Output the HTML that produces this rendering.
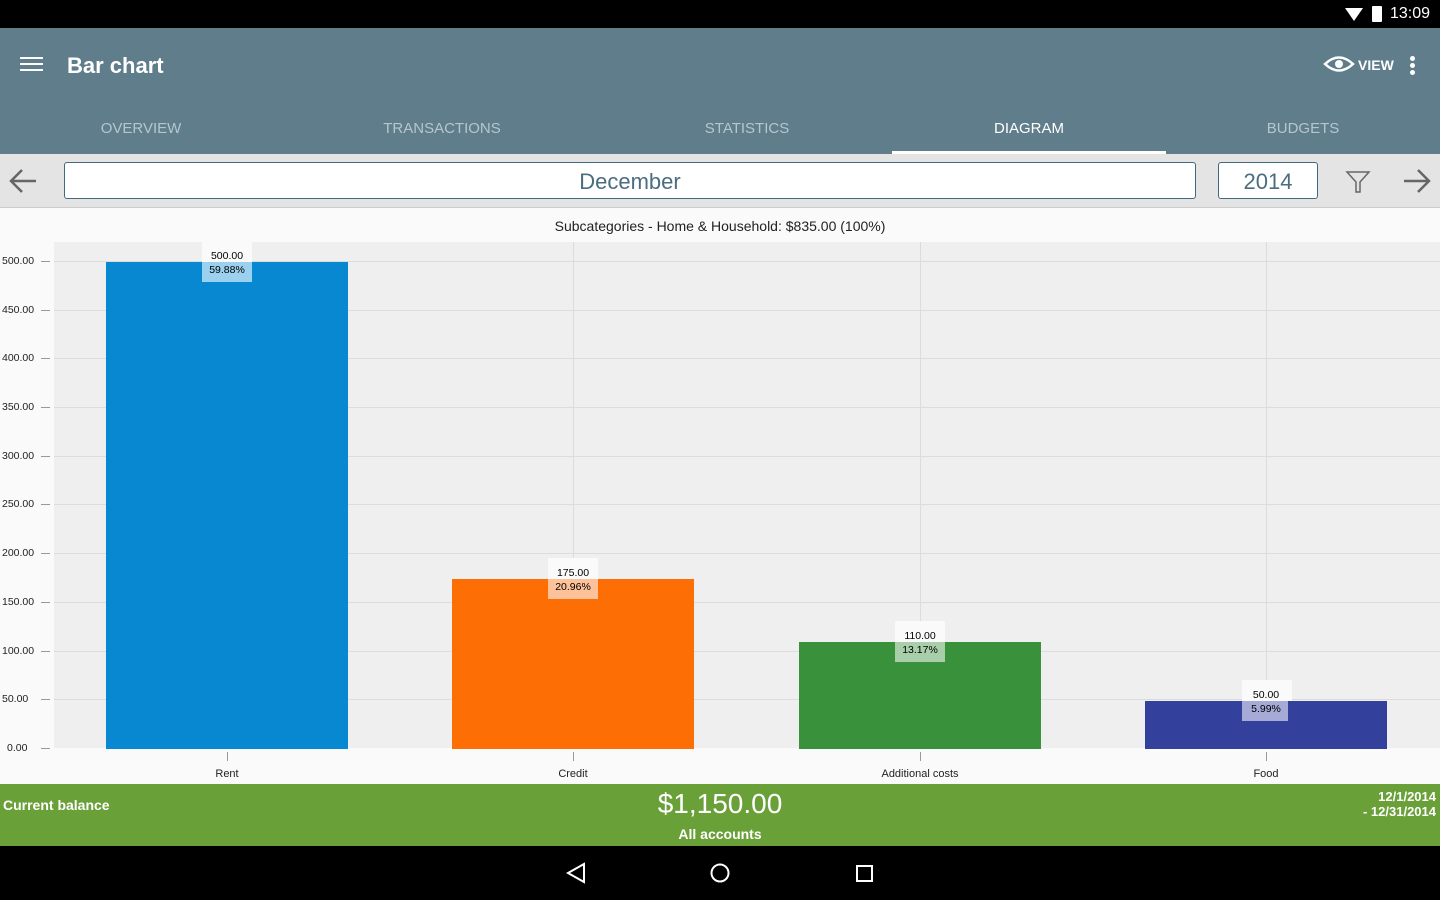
<!DOCTYPE html>
<html><head><meta charset="utf-8"><style>
*{margin:0;padding:0;box-sizing:border-box}
body{width:1440px;height:900px;overflow:hidden;background:#fafafa;font-family:"Liberation Sans",sans-serif;position:relative}
.abs{position:absolute}
.tab{position:absolute;top:120px;font-size:15px;color:#b6c6cf;transform:translateX(-50%)}
.yl{position:absolute;left:2px;font-size:10.5px;color:#222}
.xl{position:absolute;top:768px;font-size:11px;color:#222;transform:translateX(-50%)}
.lb{position:absolute;font-size:10.5px;text-align:center;width:48px;line-height:14px}
</style></head><body>
<div class="abs" style="left:0;top:0;width:1440px;height:28px;background:#000"></div>
<div class="abs" style="right:10px;top:5px;color:#fff;font-size:16px">13:09</div>
<div class="abs" style="left:1372px;top:6px;width:10px;height:16px;background:#fff;border-radius:1px"></div>
<div class="abs" style="left:1345px;top:8px;width:0;height:0;border-left:9px solid transparent;border-right:9px solid transparent;border-top:13px solid #fff"></div>
<div class="abs" style="left:0;top:28px;width:1440px;height:126px;background:#607d8b"></div>
<div class="abs" style="left:20px;top:57px;width:23px;height:2px;background:#fff;box-shadow:0 6px 0 #fff,0 12px 0 #fff"></div>
<div class="abs" style="left:67px;top:53px;color:#fff;font-size:22px;font-weight:bold">Bar chart</div>
<svg class="abs" style="left:1323px;top:55px" width="32" height="18"><path d="M2 9 Q16 -4 30 9 Q16 22 2 9Z" fill="none" stroke="#fff" stroke-width="2.5"/><circle cx="16" cy="9" r="4" fill="#fff"/></svg>
<div class="abs" style="left:1358px;top:57px;color:#fff;font-size:14px;font-weight:bold">VIEW</div>
<div class="abs" style="left:1410px;top:56px;width:5px;height:5px;border-radius:50%;background:#fff;box-shadow:0 7px 0 #fff,0 14px 0 #fff"></div>
<div class="tab" style="left:141px">OVERVIEW</div>
<div class="tab" style="left:442px">TRANSACTIONS</div>
<div class="tab" style="left:747px">STATISTICS</div>
<div class="tab" style="left:1029px;color:#fff">DIAGRAM</div>
<div class="tab" style="left:1303px">BUDGETS</div>
<div class="abs" style="left:892px;top:151px;width:274px;height:3px;background:#fff"></div>
<div class="abs" style="left:0;top:154px;width:1440px;height:54px;background:#e4e4e4;border-bottom:1px solid #ccc"></div>
<svg class="abs" style="left:0;top:165px" width="1440" height="32"><g fill="none" stroke="#666" stroke-width="2.5"><path d="M11 16 H36 M22 5 L11 16 L22 27"/><path d="M1404 16 H1429 M1418 5 L1429 16 L1418 27"/></g></svg>
<div class="abs" style="left:64px;top:162px;width:1132px;height:37px;background:#fff;border:1px solid #3f6a80;border-radius:3px;text-align:center;font-size:22px;color:#4b6d80;line-height:37px">December</div>
<div class="abs" style="left:1218px;top:162px;width:100px;height:37px;background:#fff;border:1px solid #3f6a80;border-radius:3px;text-align:center;font-size:22px;color:#4b6d80;line-height:37px">2014</div>
<svg class="abs" style="left:1345px;top:170px" width="26" height="24"><path d="M2 2 H24 L15 12 V22 H11 V12 Z" fill="none" stroke="#666" stroke-width="1.5"/></svg>
<div class="abs" style="left:0;top:218px;width:1440px;text-align:center;font-size:14px;color:#222">Subcategories - Home &amp; Household: $835.00 (100%)</div>
<svg class="abs" style="left:0;top:0" width="1440" height="790">
<rect x="54" y="242" width="1386" height="506" fill="#efefef"/>
<g stroke="#dcdcdc" stroke-width="1">
<line x1="54" x2="1440" y1="261.5" y2="261.5"/><line x1="54" x2="1440" y1="310.5" y2="310.5"/><line x1="54" x2="1440" y1="358.5" y2="358.5"/><line x1="54" x2="1440" y1="407.5" y2="407.5"/><line x1="54" x2="1440" y1="456.5" y2="456.5"/><line x1="54" x2="1440" y1="504.5" y2="504.5"/><line x1="54" x2="1440" y1="553.5" y2="553.5"/><line x1="54" x2="1440" y1="602.5" y2="602.5"/><line x1="54" x2="1440" y1="651.5" y2="651.5"/><line x1="54" x2="1440" y1="699.5" y2="699.5"/>
<line x1="227.5" x2="227.5" y1="242" y2="748"/><line x1="573.5" x2="573.5" y1="242" y2="748"/><line x1="920.5" x2="920.5" y1="242" y2="748"/><line x1="1266.5" x2="1266.5" y1="242" y2="748"/>
</g>
<g stroke="#999" stroke-width="1">
<line x1="41" x2="50" y1="261.5" y2="261.5"/><line x1="41" x2="50" y1="310.5" y2="310.5"/><line x1="41" x2="50" y1="358.5" y2="358.5"/><line x1="41" x2="50" y1="407.5" y2="407.5"/><line x1="41" x2="50" y1="456.5" y2="456.5"/><line x1="41" x2="50" y1="504.5" y2="504.5"/><line x1="41" x2="50" y1="553.5" y2="553.5"/><line x1="41" x2="50" y1="602.5" y2="602.5"/><line x1="41" x2="50" y1="651.5" y2="651.5"/><line x1="41" x2="50" y1="699.5" y2="699.5"/><line x1="41" x2="50" y1="748.5" y2="748.5"/>
<line x1="227.5" x2="227.5" y1="752" y2="761"/><line x1="573.5" x2="573.5" y1="752" y2="761"/><line x1="920.5" x2="920.5" y1="752" y2="761"/><line x1="1266.5" x2="1266.5" y1="752" y2="761"/>
</g>
<rect x="106" y="262" width="242" height="487" fill="#0788d1"/>
<rect x="452" y="579" width="242" height="170" fill="#fd6f04"/>
<rect x="799" y="642" width="242" height="107" fill="#3a913c"/>
<rect x="1145" y="701" width="242" height="48" fill="#33409c"/>
<rect x="202" y="242" width="50" height="20" fill="#fafafa"/><rect x="202" y="262" width="50" height="20" fill="#9bd0ef"/>
<rect x="548" y="558" width="50" height="21" fill="#fafafa"/><rect x="548" y="579" width="50" height="20" fill="#fdc29a"/>
<rect x="895" y="621" width="50" height="21" fill="#fafafa"/><rect x="895" y="642" width="50" height="20" fill="#a8cfa9"/>
<rect x="1242" y="680" width="50" height="21" fill="#fafafa"/><rect x="1242" y="701" width="46" height="20" fill="#a5abd6"/>
</svg>
<div class="lb" style="left:203px;top:249px">500.00<br>59.88%</div>
<div class="lb" style="left:549px;top:566px">175.00<br>20.96%</div>
<div class="lb" style="left:896px;top:629px">110.00<br>13.17%</div>
<div class="lb" style="left:1242px;top:688px">50.00<br>5.99%</div>
<div class="yl" style="top:255px">500.00</div><div class="yl" style="top:304px">450.00</div><div class="yl" style="top:352px">400.00</div><div class="yl" style="top:401px">350.00</div><div class="yl" style="top:450px">300.00</div><div class="yl" style="top:498px">250.00</div><div class="yl" style="top:547px">200.00</div><div class="yl" style="top:596px">150.00</div><div class="yl" style="top:645px">100.00</div><div class="yl" style="top:693px">50.00</div><div class="yl" style="top:742px;left:7px">0.00</div>
<div class="xl" style="left:227px">Rent</div><div class="xl" style="left:573px">Credit</div><div class="xl" style="left:920px">Additional costs</div><div class="xl" style="left:1266px">Food</div>
<div class="abs" style="left:0;top:784px;width:1440px;height:62px;background:#6aa038;color:#fff"></div>
<div class="abs" style="left:3px;top:797px;color:#fff;font-size:14px;font-weight:bold">Current balance</div>
<div class="abs" style="left:0;top:788px;width:1440px;text-align:center;color:#fff;font-size:28px">$1,150.00</div>
<div class="abs" style="left:0;top:826px;width:1440px;text-align:center;color:#fff;font-size:14px;font-weight:bold">All accounts</div>
<div class="abs" style="right:4px;top:789px;color:#fff;font-size:13px;font-weight:bold;text-align:right;line-height:15px">12/1/2014<br>- 12/31/2014</div>
<div class="abs" style="left:0;top:846px;width:1440px;height:54px;background:#000"></div>
<svg class="abs" style="left:560px;top:860px" width="320" height="26"><path d="M8 13 L24 4 V22 Z" fill="none" stroke="#fff" stroke-width="2"/><circle cx="160" cy="13" r="8.5" fill="none" stroke="#fff" stroke-width="2"/><rect x="297" y="6" width="15" height="15" fill="none" stroke="#fff" stroke-width="2"/></svg>
</body></html>
